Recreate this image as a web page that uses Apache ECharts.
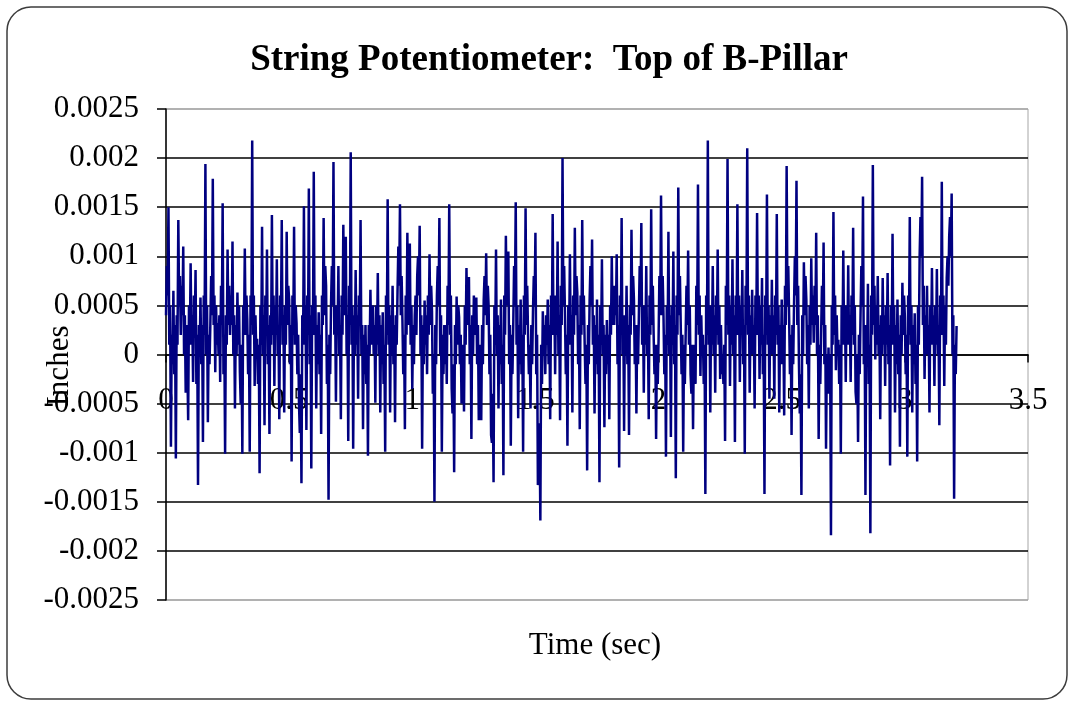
<!DOCTYPE html>
<html>
<head>
<meta charset="utf-8">
<script src="https://cdn.jsdelivr.net/npm/echarts@6/dist/echarts.min.js"></script>
<style>
  html, body { margin: 0; padding: 0; background: #ffffff; }
  #chart { width: 1073px; height: 705px; }
</style>
</head>
<body>
<div id="chart"></div>
<script>
// String potentiometer reading at the top of the B-pillar
const chartTitle = 'String Potentiometer:  Top of B-Pillar';
const xAxisTitle = 'Time (sec)';
const yAxisTitle = 'Inches';

// logger rate, samples per second; first sample at t = 0
const sampleRate = 300;

// displacement in ten-thousandths of an inch (0.0001 in), one value per sample
const displacementTenThou = [
  4, 9, 6, 15, 1, 5, -9.4, 2, -1, 6.5, -2, 3, -10.6, 4, 1, 13.7, 5, 8, 2, 7, 4, 11, 0, 4,
  -3.9, 3, -1, -6.7, 5, 1, 9.3, 1, 4, -2.8, 6, 2, 8.6, -3, 2, -13.3, 3, 0, 5.8, -1, 3, -8.9, 6, 2,
  19.4, 0, 5, -6.9, 2, -1, 3, 8, 4, 17.9, 3, 6, -1.8, 5, 1, 3.2, 0, 4, -2.8, 7, 3, 15.4, -2, 2,
  -10.1, 4, 1, 10.7, 3, 7, 2, 6, 3, 11.5, 0, 4, -5.5, 3, 0, 6.3, 1, 5, -1.8, -5, 1, -10.1, 5, 2,
  10.8, 2, 6, 3.6, -2, 2, -9.9, 6, 3, 21.8, 2, 6, -3.2, 4, 0, 1.6, -3, 1, -12.1, 5, 1, 13, 0, 4,
  -7.2, 6, 2, 10.7, -1, 3, -8.1, 4, 1, 14.2, 2, 6, -3.2, 5, 2, 9.7, 0, 3, -6.6, 6, 3, 13.7, 1, 4,
  -5.9, 5, 1, 12.5, 3, 7, 5.6, -1, 3, -10.9, 6, 2, 13, 1, 5, 3.2, -2, 2, -5, -8, -2, -13.1, 4, 1,
  15.1, 1, 5, -7.7, 6, 2, 16.9, -1, 4, -11.6, 5, 2, 18.6, 2, 6, -5.5, 3, -1, 4.3, -2, 2, -8.1, 6, 3,
  13.9, 4, 9, 7, -3, 1, -14.8, 2, -2, 5, 9, 5, 19.6, 2, 5, -4.8, 5, 2, 9, 0, 3, -6.6, 6, 2,
  13.2, 4, 8, 12, 0, 4, -8.8, 7, 3, 20.6, 1, 5, -9.6, 4, 0, 8.6, 1, 4, -4.5, 6, 3, 13.7, 0, 3,
  -7.6, 2, -2, 3, -3, 1, -10.3, 3, 0, 6.6, 1, 4, 5, 0, 3, -4.9, 5, 1, 8.3, 0, 4, -5.9, 3, -1,
  4.3, -3, 1, -9.9, 6, 2, 15.8, 1, 5, -5.9, 4, 0, 7, -1, 3, -6.9, 4, 1, 6.3, 11, 7, 15.3, 4, 8,
  3.5, -2, 2, -7.6, 6, 2, 12.4, 3, 7, 11.3, 1, 5, -3.5, 3, -1, 4, 6, 2, 8, 10, 6, 13.1, 0, 4,
  -9.6, 3, -1, 5.5, 1, 4, -2, 6, 2, 10.2, 3, 7, 4.4, -4, 0, -15, 3, -1, 6, 9, 5, 13.9, 0, 4,
  -9.9, 2, -2, 3, -1, 3, -3, 7, 3, 15.3, 2, 6, -3.5, -6, -1, -12, 3, -1, 5.9, 1, 5, 3.8, -1, 2,
  -5, -3, 1, -5.8, 5, 1, 8.8, 3, 6, 7.9, -1, 3, -8.6, 4, 0, 6, 2, 5, 5.8, -1, 3, -6.7, -3, 1,
  -6.7, 3, -1, 5.5, 8, 4, 10.3, 3, 7, 4.9, -2, 2, -8.2, -9, -4, -13, 5, 1, 10.7, 0, 4, -5.5, 3, -1,
  5.6, -3, 1, -12.3, 6, 2, 12.1, 5, 8, 10.5, -1, 3, -9.3, 2, -2, 3, 9, 5, 15.5, 1, 5, -6.5, 3, -1,
  5.6, -2, 2, -9.9, 6, 2, 14.9, 3, 7, 2, -2, 1, -5.5, 3, -1, 4.3, 8, 5, 12.4, -2, 2, -13.3, -10, -7,
  -16.9, 1, -3, 4.4, 0, 3, -2, 4, 1, 5.6, -1, 3, -6.6, 6, 2, 14.3, 2, 6, -2, 6, 2, 11.5, 0, 4,
  -6.7, 7, 3, 20, 5, 9, 4, -2, 2, -9.3, 5, 1, 10.2, 1, 4, -5.9, 6, 2, 12.9, 4, 8, 6.3, -1, 3,
  -7.6, 6, 2, 13.7, 3, 6, 1, -3, 1, -11.8, 3, -1, 5.5, 9, 5, 11.7, 1, 4, -6, 3, -1, 5.6, -2, 2,
  -13, 5, 1, 9.7, 0, 3, -7.4, 2, -2, 3.5, -1, 2, -6.6, 5, 2, 10, 3, 7, 3, 7, 4, 10.2, -1, 3,
  -11.5, 6, 2, 13.9, 0, 4, -7.8, 4, 0, 7, -1, 3, -8.2, 5, 2, 12.7, 4, 8, 5.6, -1, 3, -6, 3, -1,
  4, 9, 5, 13.4, 1, 5, -3.9, 5, 1, 9, 0, 3, -6.6, 6, 2, 14.8, 3, 7, 2, -2, 1, -8.6, 1, -3,
  1.5, 8, 4, 16.2, 4, 8, 4, -2, 2, -10.4, 5, 1, 12.5, 0, 4, -8.4, 5, 1, 10.5, -1, 3, -12.6, 6, 2,
  17, 4, 8, 3, -2, 2, -9.9, 1, -3, 2, 7, 3, 10.6, 1, 5, -2, -4, 1, -7.6, 1, -2, -3, 7, 3,
  17.3, 2, 6, -2.2, 4, 0, 2, -3, 1, -14.2, 6, 2, 21.8, 1, 5, -5.9, 5, 1, 9, 0, 4, -3.9, 6, 2,
  10.7, 1, 5, -2.5, 3, -2, -0.1, -3, 1, -8.8, 7, 3, 19.9, 2, 6, -3.2, 5, 1, 9.7, 0, 4, -8.9, 6, 2,
  15.3, 2, 6, -2.8, 5, 2, 8.6, -1, 3, -10.1, 7, 3, 21, 2, 6, -3.9, 4, 0, 6.6, 0, 3, -5.5, 6, 2,
  14.4, 2, 6, -2.5, 5, 1, 7.8, -2, 2, -14.2, 6, 2, 16.3, 1, 5, -4.5, 4, 0, 7.6, 0, 4, -4.5, 6, 2,
  14.3, 1, 5, -5.9, 3, -1, 5.6, -1, 3, -6.2, 7, 3, 19.2, 5, 9, 4, -2, 2, -8.2, 3, -1, 5, 10, 6,
  17.7, 3, 7, -1, -6, -2, -14.3, 4, 0, 9.4, 4, 8, 5.6, -1, 3, -5.5, 5, 1, 9.8, 3, 6, 1.2, 7, 3,
  12.4, 0, 4, -8.6, 1, -3, 2, 7, 3, 11.4, -1, 3, -9.6, 0, -4, 0.7, -4, 0, -18.4, 5, 1, 14.5, 2, 6,
  -1.6, 4, 0, 1.5, -3, 1, -10.1, 5, 1, 10.6, 1, 5, -2.8, 5, 1, 9.1, 1, 4, -2.8, 6, 2, 12.9, 1, 5,
  -3.8, -5, 0, -8.9, 2, -2, 4, 9, 5, 16.1, -1, 3, -14.3, 3, -1, 7.2, -3, 1, -18.2, 6, 2, 19.3, 3, 7,
  -0.5, 5, 1, 8, 0, 3, -6.6, 4, 0, 7.8, 1, 4, -3.2, 5, 1, 8.3, -1, 3, -11.3, 5, 1, 12.3, 1, 5,
  -5.9, 3, -1, 5.6, -2, 2, -9.4, 4, 0, 7.3, 2, 6, 3.9, -2, 2, -10.4, 6, 2, 14, 1, 5, -5.9, 3, -1,
  4.2, -3, 1, -10.9, 5, 1, 10, 14, 10, 18.1, 3, 7, -2.5, 4, 0, 7, 0, 3, -5.9, 5, 1, 8.8, 1, 4,
  -3.2, 5, 1, 8.7, 0, 3, -7.2, 6, 2, 17.6, 2, 6, -3.2, 5, 1, 7.8, 10, 7, 12, 14, 10, 16.4, 0, 4,
  -14.7, 1, -2, 2.9
];

// axis ranges and tick steps
const timeRange = [0, 3.5];
const timeStep = 0.5;
const inchRange = [-0.0025, 0.0025];
const inchStep = 0.0005;

const serif = '"Liberation Serif", "Times New Roman", serif';

const seriesData = displacementTenThou.map((v, i) => [i / sampleRate, v * 1e-4]);

// plot area box
const gridBox = { left: 166, top: 109, right: 45, bottom: 105 };
const plotHeight = 705 - gridBox.top - gridBox.bottom;
// the time axis sits on the zero line, half way down the symmetric range
const zeroOffset = -plotHeight * (0 - inchRange[0]) / (inchRange[1] - inchRange[0]);

// plot-area edges grey, inner gridlines black
const gridCount = Math.round((inchRange[1] - inchRange[0]) / inchStep) + 1;
const gridColors = [];
for (let k = 0; k < gridCount; k++) {
  gridColors.push(k === 0 || k === gridCount - 1 ? '#a6a6a6' : '#000000');
}

const chart = echarts.init(document.getElementById('chart'), null, { renderer: 'canvas' });

chart.setOption({
  animation: false,
  backgroundColor: '#ffffff',
  grid: Object.assign({
    show: true, borderColor: '#a6a6a6', borderWidth: 1, backgroundColor: 'transparent'
  }, gridBox),
  xAxis: {
    type: 'value',
    position: 'bottom',
    offset: zeroOffset,
    min: timeRange[0], max: timeRange[1], interval: timeStep,
    axisLine: { show: true, onZero: false, lineStyle: { color: '#000', width: 1.5 } },
    axisTick: { show: true, inside: false, length: 8, lineStyle: { color: '#000', width: 1.5 } },
    axisLabel: {
      margin: 31, color: '#000', fontFamily: serif, fontSize: 31,
      showMinLabel: true, showMaxLabel: true
    },
    splitLine: { show: false }
  },
  yAxis: {
    type: 'value',
    min: inchRange[0], max: inchRange[1], interval: inchStep,
    axisLine: { show: true, onZero: false, lineStyle: { color: '#000', width: 1.5 } },
    axisTick: { show: true, inside: false, length: 9, lineStyle: { color: '#000', width: 1.5 } },
    axisLabel: {
      margin: 27, color: '#000', fontFamily: serif, fontSize: 31,
      formatter: v => String(parseFloat(v.toFixed(4)))
    },
    splitLine: { show: true, lineStyle: { color: gridColors, width: 1.5 } }
  },
  series: [{
    type: 'line',
    data: seriesData,
    symbol: 'none',
    showSymbol: false,
    sampling: false,
    lineStyle: { color: '#000080', width: 2.5, join: 'bevel' },
    z: 3
  }],
  graphic: [
    {
      type: 'rect', silent: true, z: -10,
      shape: { x: 7, y: 7, width: 1060, height: 692, r: 24 },
      style: { fill: 'none', stroke: '#3c3c3c', lineWidth: 1.5 }
    },
    {
      type: 'text', silent: true, x: 549, y: 60,
      style: {
        text: chartTitle, fill: '#000', fontFamily: serif, fontSize: 37, fontWeight: 'bold',
        align: 'center', verticalAlign: 'middle'
      }
    },
    {
      type: 'text', silent: true, x: 595, y: 646,
      style: {
        text: xAxisTitle, fill: '#000', fontFamily: serif, fontSize: 31,
        align: 'center', verticalAlign: 'middle'
      }
    },
    {
      type: 'text', silent: true, x: 60, y: 366, rotation: Math.PI / 2,
      style: {
        text: yAxisTitle, fill: '#000', fontFamily: serif, fontSize: 31,
        align: 'center', verticalAlign: 'middle'
      }
    }
  ]
});
</script>
</body>
</html>
